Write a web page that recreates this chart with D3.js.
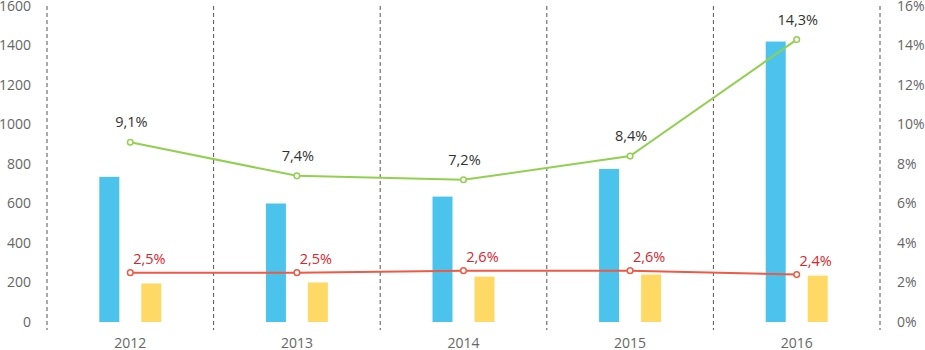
<!DOCTYPE html>
<html>
<head>
<meta charset="utf-8">
<script src="https://cdn.jsdelivr.net/npm/d3@7"></script>
<style>
  body { margin: 0; background: #fff; }
  text { font-family: "Open Sans", sans-serif; }
</style>
</head>
<body>
<div id="container"></div>
<script>
/* data */
const years = ["2012", "2013", "2014", "2015", "2016"];
const blueValues = [735, 600, 635, 775, 1420];
const yellowValues = [195, 200, 230, 240, 235];
const greenPct = [9.1, 7.4, 7.2, 8.4, 14.3];
const redPct = [2.5, 2.5, 2.6, 2.6, 2.4];
const leftTicks = [0, 200, 400, 600, 800, 1000, 1200, 1400, 1600];
const rightTicks = [0, 2, 4, 6, 8, 10, 12, 14, 16];

const width = 925, height = 350;
const margin = {top: 6, right: 45, bottom: 28, left: 47};
const barW = 20;

const svg = d3.select("#container").append("svg")
  .attr("width", width).attr("height", height);

const x = d3.scaleBand().domain(years)
  .range([margin.left, width - margin.right]);
const yL = d3.scaleLinear().domain([0, 1600])
  .range([height - margin.bottom, margin.top]);
const yR = d3.scaleLinear().domain([0, 16])
  .range([height - margin.bottom, margin.top]);
const cx = d => x(d) + x.bandwidth() / 2;
const fmt = v => d3.format(".1f")(v).replace(".", ",") + "%";

// dashed separators
const seps = years.map(d => x(d)).concat([x(years[4]) + x.bandwidth()]);
svg.selectAll(".sep").data(seps).join("line")
  .attr("x1", d => d).attr("x2", d => d)
  .attr("y1", margin.top).attr("y2", height - margin.bottom + 8)
  .attr("stroke", "#555").attr("stroke-width", 1)
  .attr("stroke-dasharray", "4,3");

// left axis
svg.append("g")
  .attr("transform", `translate(${margin.left - 16},0)`)
  .call(d3.axisLeft(yL).tickValues(leftTicks).tickSize(0).tickPadding(0)
    .tickFormat(d3.format("d")))
  .call(g => g.select(".domain").remove())
  .selectAll("text").attr("fill", "#666").attr("font-size", "14px")
  .attr("font-family", "'Open Sans', sans-serif");

// right axis
svg.append("g")
  .attr("transform", `translate(${width - margin.right + 17},0)`)
  .call(d3.axisRight(yR).tickValues(rightTicks).tickSize(0).tickPadding(0)
    .tickFormat(d => d + "%"))
  .call(g => g.select(".domain").remove())
  .selectAll("text").attr("fill", "#666").attr("font-size", "14px")
  .attr("font-family", "'Open Sans', sans-serif");

// x labels
svg.selectAll(".xl").data(years).join("text")
  .attr("x", d => cx(d)).attr("y", height - 2)
  .attr("text-anchor", "middle").attr("fill", "#666")
  .attr("font-size", "14px").text(d => d);

// bars
svg.selectAll(".bb").data(years).join("rect")
  .attr("x", (d) => cx(d) - 21 - barW / 2)
  .attr("y", (d, i) => yL(blueValues[i]))
  .attr("width", barW)
  .attr("height", (d, i) => yL(0) - yL(blueValues[i]))
  .attr("fill", "#4cc3ec");

svg.selectAll(".yb").data(years).join("rect")
  .attr("x", (d) => cx(d) + 21 - barW / 2)
  .attr("y", (d, i) => yL(yellowValues[i]))
  .attr("width", barW)
  .attr("height", (d, i) => yL(0) - yL(yellowValues[i]))
  .attr("fill", "#ffd966");

// lines
function drawLine(vals, lineColor, labelColor, dx, dy) {
  const line = d3.line().x((d, i) => cx(years[i])).y(d => yR(d));
  svg.append("path").datum(vals).attr("d", line)
    .attr("fill", "none").attr("stroke", lineColor).attr("stroke-width", 2);
  svg.append("g").selectAll("circle").data(vals).join("circle")
    .attr("cx", (d, i) => cx(years[i])).attr("cy", d => yR(d)).attr("r", 2.8)
    .attr("fill", "#fff").attr("stroke", lineColor).attr("stroke-width", 1.5);
  svg.append("g").selectAll("text").data(vals).join("text")
    .attr("x", (d, i) => cx(years[i]) + dx).attr("y", d => yR(d) - dy)
    .attr("text-anchor", "middle").attr("fill", labelColor)
    .attr("font-size", "14.5px").text(d => fmt(d));
}
drawLine(greenPct, "#92d050", "#333", 1, 15);
drawLine(redPct, "#ee5a45", "#d9262e", 19, 9);
</script>
</body>
</html>
